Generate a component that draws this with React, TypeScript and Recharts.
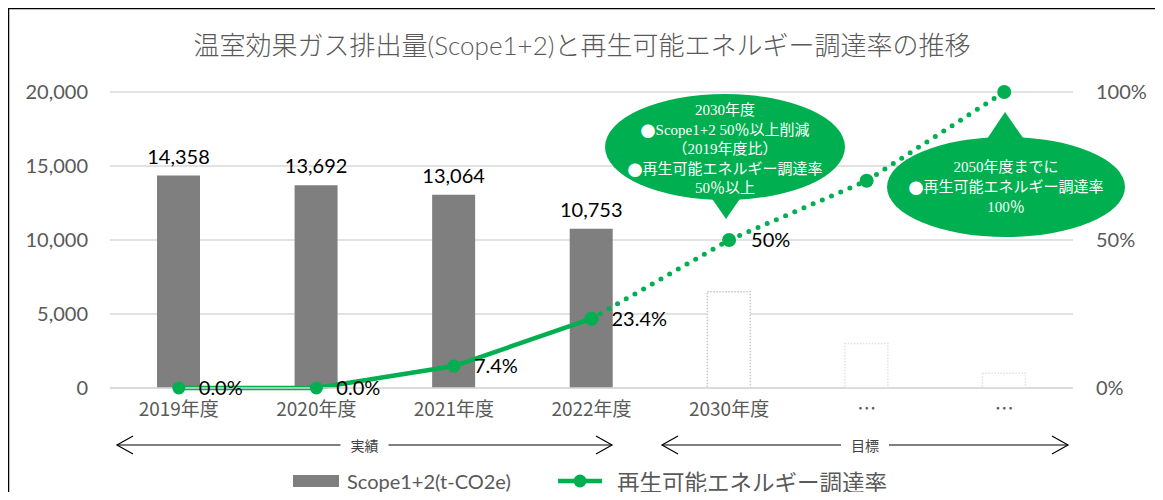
import React from 'react'
import { ComposedChart, Bar, Line, XAxis, YAxis, CartesianGrid, Cell, LabelList } from 'recharts'

const categories = ['2019年度', '2020年度', '2021年度', '2022年度', '2030年度', '…', '…']
const emissions = [14358, 13692, 13064, 10753, 6500, 3000, 1000]
const emissionLabels = ['14,358', '13,692', '13,064', '10,753', '', '', '']
const renewableActual = [0, 0, 7.4, 23.4, null, null, null]
const renewableTarget = [null, null, null, 23.4, 50, 70, 100]
const actualLabels = ['0.0%', '0.0%', '7.4%', '23.4%', '', '', '']
const targetLabels = ['', '', '', '', '50%', '', '']
const leftTicks = [0, 5000, 10000, 15000, 20000]
const rightTicks = [0, 50, 100]

const title = '温室効果ガス排出量(Scope1+2)と再生可能エネルギー調達率の推移'
const callout2030 = ['2030年度', '●Scope1+2 50％以上削減', '（2019年度比）', '●再生可能エネルギー調達率', '50％以上']
const callout2050 = ['2050年度までに', '●再生可能エネルギー調達率', '100％']

const data = categories.map((cat, i) => ({
  cat,
  emission: emissions[i],
  emissionLabel: emissionLabels[i],
  actual: renewableActual[i],
  target: renewableTarget[i],
  actualLabel: actualLabels[i],
  targetLabel: targetLabels[i],
}))

const GREEN = '#00b050'
const GREY = '#7f7f7f'
const AXIS_TEXT = '#595959'
const LATIN = "Lato, 'Noto Sans CJK JP', sans-serif"
const NARROW = "'Liberation Sans Narrow', 'Noto Sans CJK JP', sans-serif"
const JP = "'Noto Sans CJK JP', sans-serif"
const MINCHO = "'Liberation Serif', 'Noto Sans CJK JP', serif"

function Callout({ cx, cy, rx, ry, tri, lines, firstY, step }: any) {
  return (
    <g>
      <ellipse cx={cx} cy={cy} rx={rx} ry={ry} fill={GREEN} />
      <polygon points={tri} fill={GREEN} />
      {lines.map((t: string, i: number) => (
        <text key={i} x={cx} y={firstY + i * step} fill="#fff" fontSize={15} fontFamily={MINCHO}
          textAnchor="middle" dominantBaseline="central">
          {t.startsWith('●') ? (
            <>
              <tspan fontFamily={JP}>●</tspan>
              <tspan>{t.slice(1)}</tspan>
            </>
          ) : t}
        </text>
      ))}
    </g>
  )
}

function Arrow({ x1, x2, y, label }: { x1: number; x2: number; y: number; label: string }) {
  const mid = (x1 + x2) / 2
  return (
    <g stroke="#000" strokeWidth={1.2} fill="none">
      <path d={`M${x1} ${y} H${mid - 24} M${mid + 24} ${y} H${x2}`} />
      <path d={`M${x1 + 16} ${y - 9} L${x1} ${y} L${x1 + 16} ${y + 9}`} />
      <path d={`M${x2 - 16} ${y - 9} L${x2} ${y} L${x2 - 16} ${y + 9}`} />
      <text x={mid} y={y} stroke="none" fill="#404040" fontSize={14} fontFamily={JP}
        textAnchor="middle" dominantBaseline="central">{label}</text>
    </g>
  )
}

export default function App() {
  return (
    <div style={{ position: 'relative', width: 1163, height: 500, margin: -8, overflow: 'hidden', background: '#fff' }}>
      <ComposedChart width={1163} height={500} data={data}
        margin={{ top: 92, right: 0, left: 0, bottom: 82 }} barSize={43}>
        <CartesianGrid vertical={false} stroke="#d9d9d9" strokeWidth={1.5} yAxisId="left" />
        <XAxis dataKey="cat" interval={0} tickLine={false} axisLine={{ stroke: '#d9d9d9', strokeWidth: 1.5 }}
          height={30} tickSize={0} tickMargin={15}
          tick={{ fill: AXIS_TEXT, fontSize: 19, fontFamily: NARROW }} />
        <YAxis yAxisId="left" width={110} domain={[0, 20000]} ticks={leftTicks} axisLine={false}
          tickLine={false} tickSize={0} tickMargin={22}
          tickFormatter={(v: number) => v.toLocaleString('en-US')}
          tick={{ fill: AXIS_TEXT, fontSize: 20, fontFamily: LATIN }} />
        <YAxis yAxisId="right" orientation="right" width={90} domain={[0, 100]} ticks={rightTicks}
          axisLine={false} tickLine={false} tickSize={0} tickMargin={23}
          tickFormatter={(v: number) => `${v}%`}
          tick={{ fill: AXIS_TEXT, fontSize: 20, fontFamily: LATIN, textAnchor: 'start' }} />
        <Bar yAxisId="left" dataKey="emission" isAnimationActive={false}>
          {data.map((d, i) => (
            <Cell key={i}
              fill={i < 4 ? GREY : '#fff'}
              stroke={i < 4 ? 'none' : i === 4 ? '#c8c8c8' : '#e2e2e2'}
              strokeWidth={i < 4 ? 0 : 1.5}
              strokeDasharray={i < 4 ? undefined : '1.5 1.5'} />
          ))}
          <LabelList dataKey="emissionLabel" position="top" offset={12}
            fill="#000" fontSize={20} fontFamily={LATIN} />
        </Bar>
        <Line yAxisId="right" dataKey="target" stroke={GREEN} strokeWidth={5} strokeDasharray="0 10"
          strokeLinecap="round" dot={{ r: 7, fill: GREEN, stroke: 'none' }} activeDot={false}
          isAnimationActive={false}>
          <LabelList dataKey="targetLabel" position="right" offset={22}
            fill="#000" fontSize={20} fontFamily={LATIN} />
        </Line>
        <Line yAxisId="right" dataKey="actual" stroke={GREEN} strokeWidth={4.5}
          dot={{ r: 6.5, fill: GREEN, stroke: 'none' }} activeDot={false} isAnimationActive={false}>
          <LabelList dataKey="actualLabel" position="right" offset={20}
            fill="#000" fontSize={20} fontFamily={LATIN} />
        </Line>
      </ComposedChart>

      <svg width={1163} height={500} style={{ position: 'absolute', left: 0, top: 0, pointerEvents: 'none' }}>
        <path d="M8 500 V8 H1157 V500" fill="none" stroke="#000" strokeWidth={2.5} />
        <text x={582} y={45} fill={AXIS_TEXT} fontSize={26} fontWeight={300} fontFamily={LATIN}
          textAnchor="middle" dominantBaseline="central">{title}</text>

        <Callout cx={725} cy={147} rx={120} ry={53} tri="706,190 746,190 726,219"
          lines={callout2030} firstY={110} step={19.6} />
        <Callout cx={1006} cy={187} rx={119} ry={50} tri="983,145 1028,145 1005,112"
          lines={callout2050} firstY={167} step={20} />

        <Arrow x1={117} x2={612} y={445} label="実績" />
        <Arrow x1={662} x2={1068} y={445} label="目標" />

        <rect x={293} y={475} width={46} height={12} fill={GREY} />
        <text x={347} y={481} fill={AXIS_TEXT} fontSize={20} fontFamily={LATIN}
          dominantBaseline="central">Scope1+2(t-CO2e)</text>
        <line x1={558} x2={602} y1={481} y2={481} stroke={GREEN} strokeWidth={4.5} />
        <circle cx={580} cy={481} r={6.5} fill={GREEN} />
        <text x={617} y={481} fill={AXIS_TEXT} fontSize={22.5} fontFamily={JP}
          dominantBaseline="central">再生可能エネルギー調達率</text>
      </svg>
    </div>
  )
}
